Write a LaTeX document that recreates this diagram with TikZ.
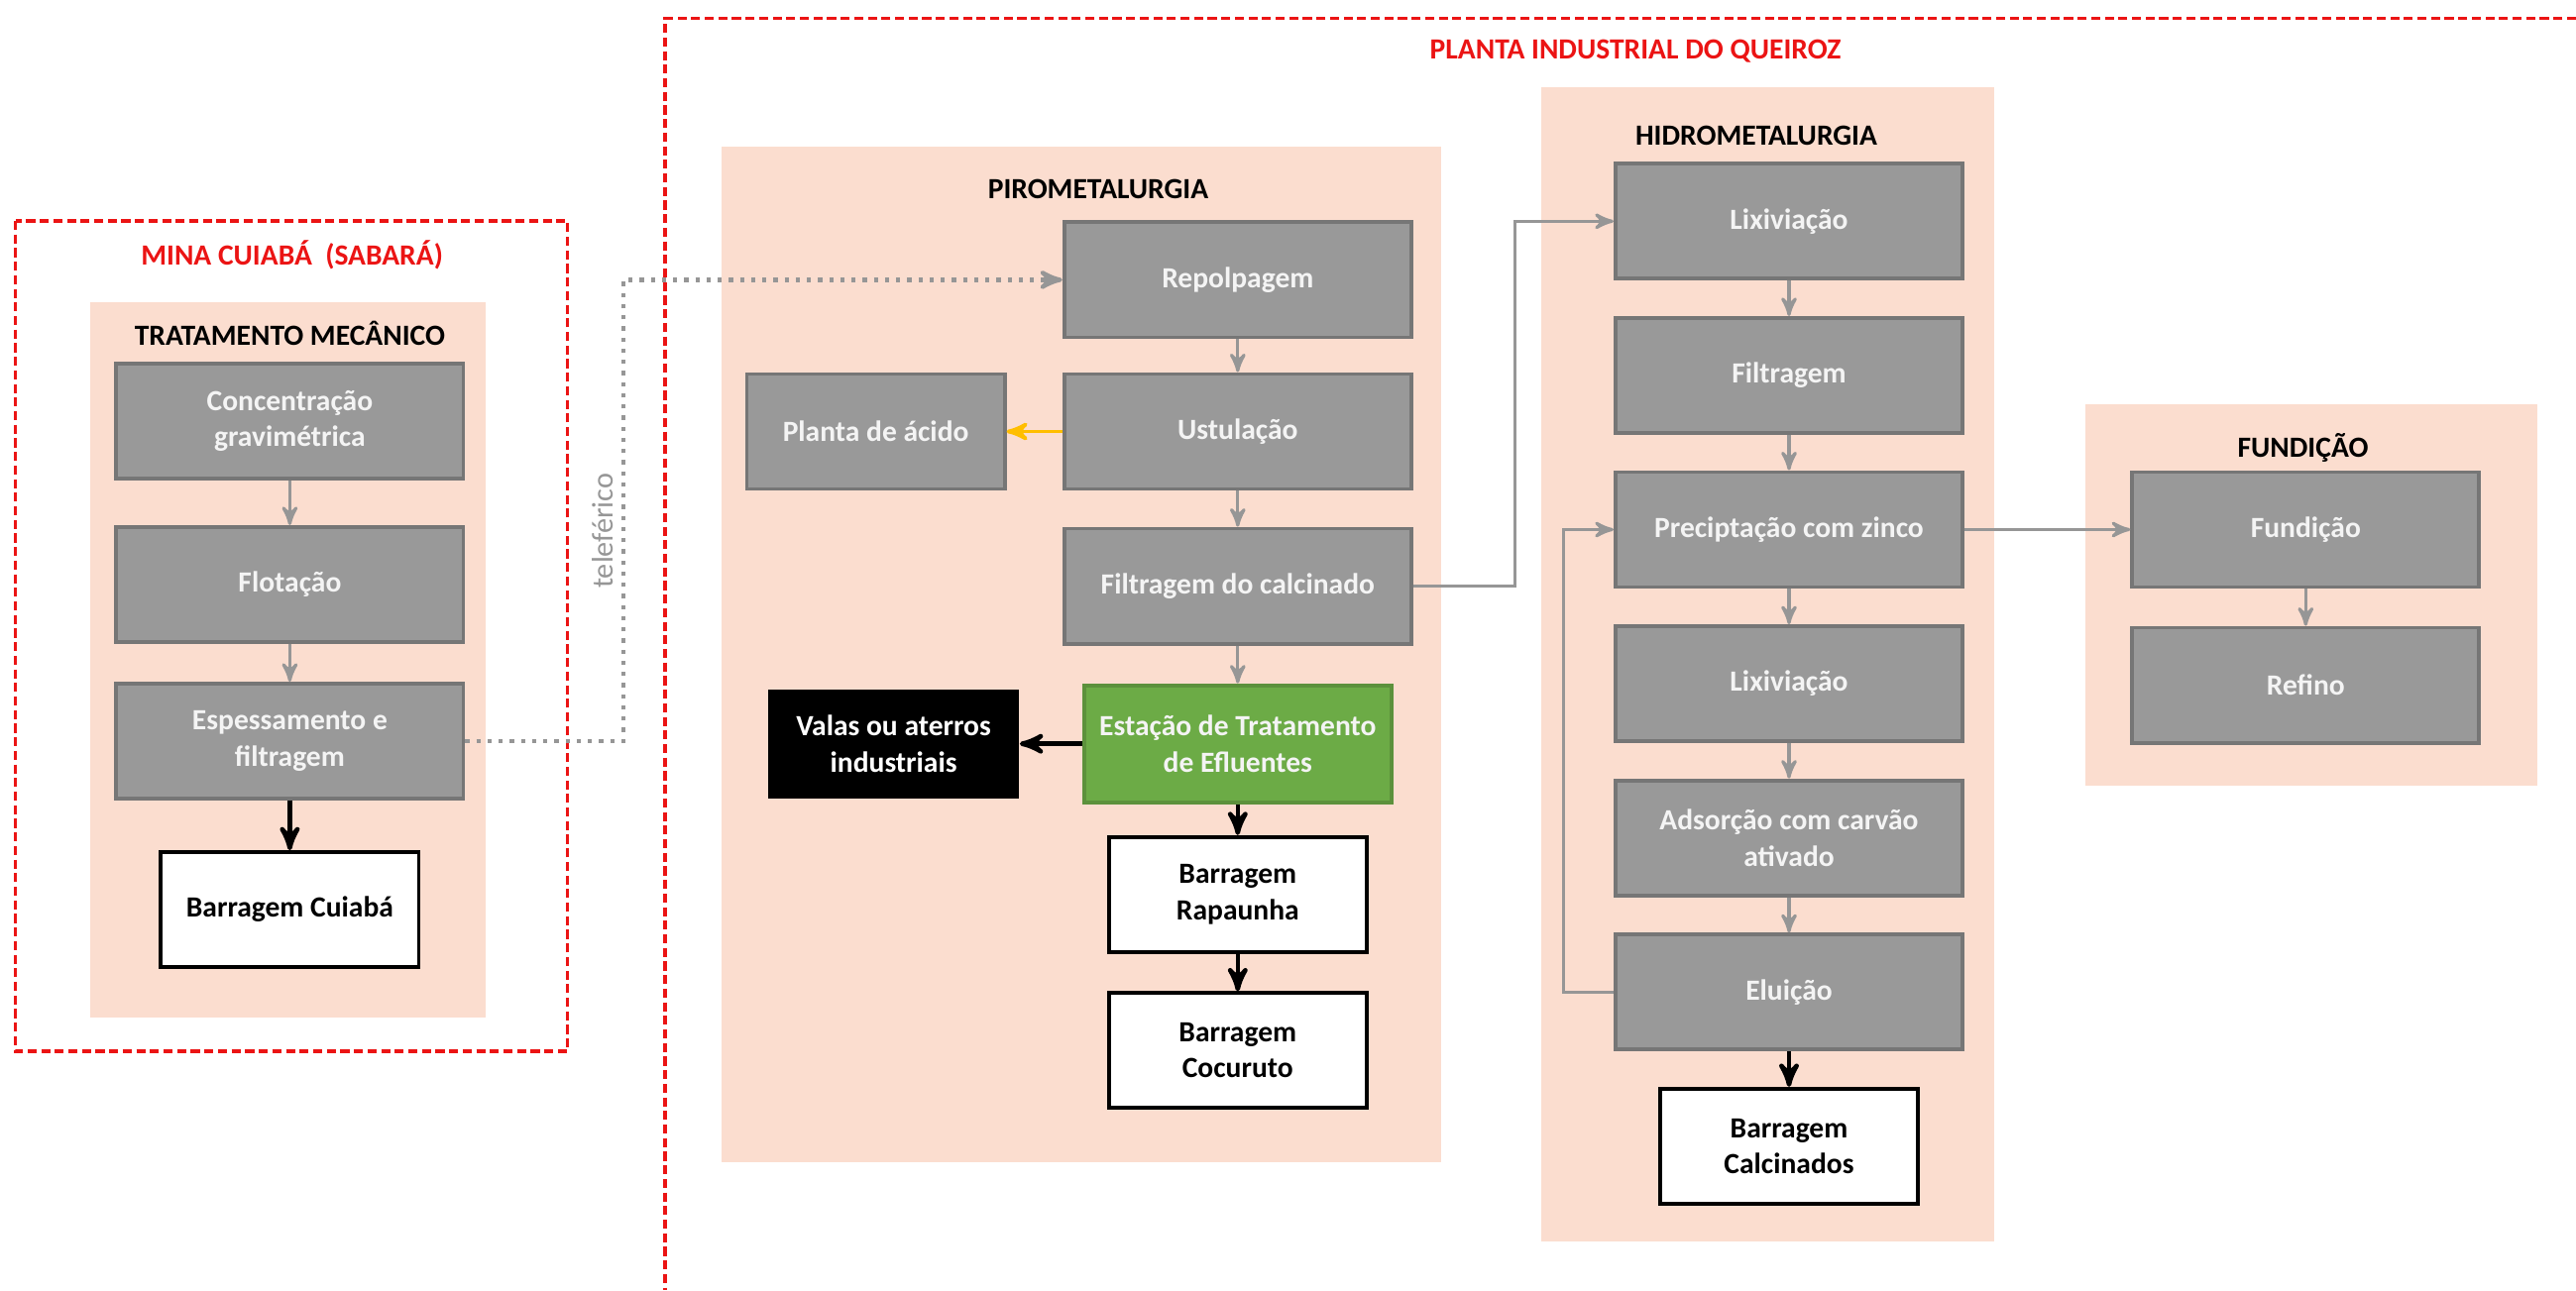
\documentclass[tikz,border=0pt]{standalone}
\usepackage{fontspec}
\setmainfont{Carlito}
\usetikzlibrary{arrows,positioning}

\definecolor{areapink}{RGB}{251,221,207}
\definecolor{boxgray}{RGB}{153,153,153}
\definecolor{boxedge}{RGB}{118,118,118}
\definecolor{boxtext}{RGB}{244,244,244}
\definecolor{flowgray}{RGB}{150,150,150}
\definecolor{etegreen}{RGB}{108,171,70}
\definecolor{gasyellow}{RGB}{255,190,0}
\definecolor{zonered}{RGB}{235,20,20}

\begin{document}
\begin{tikzpicture}[
        >=stealth', x=0.01cm, y=-0.01cm,
        node distance=1.555cm,
        font=\fontsize{8.4}{10.3}\selectfont\bfseries
    ]

    \tikzstyle{proc} = [rectangle,draw=boxedge,fill=boxgray,line width=1.1pt,text=boxtext,align=center,minimum width=3.5cm,minimum height=1.16cm,inner sep=1pt]
    \tikzstyle{dam} = [rectangle,draw=black,fill=white,line width=1.1pt,align=center,minimum width=2.6cm,minimum height=1.16cm]
    \tikzstyle{ete} = [rectangle,draw=etegreen!85!black,fill=etegreen,text=boxtext,line width=1.1pt,align=center,minimum width=3.1cm,minimum height=1.18cm]
    \tikzstyle{waste} = [rectangle,fill=black,text=white,align=center,minimum width=2.53cm,minimum height=1.1cm]
    \tikzstyle{area} = [fill=areapink]
    \tikzstyle{zone} = [draw=zonered,line width=0.9pt,dash pattern=on 2.6pt off 1.3pt]
    \tikzstyle{title} = [inner sep=0pt]
    \tikzstyle{flow} = [->,draw=flowgray,line width=0.9pt]
    \tikzstyle{dump} = [->,draw=black,line width=1.3pt]
    \tikzstyle{gas} = [->,draw=gasyellow,line width=1.1pt]
    \tikzstyle{cable} = [->,draw=flowgray,line width=1.2pt,dotted]

    \useasboundingbox (0,0) rectangle (2599,1302);

    % zonas e areas
    \draw[zone] (15.6,223) rectangle (572.8,1061);
    \draw[zone] (2599,18.3) -- (671,18.3) -- (671,1302);
    \fill[area] (90.6,305) rectangle (489.7,1026.6);
    \fill[area] (728,147.7) rectangle (1454,1173);
    \fill[area] (1554.7,87.7) rectangle (2011.6,1252.6);
    \fill[area] (2104,408) rectangle (2559.7,793);

    \node[title,text=zonered] (mina) at (294.6,257) {MINA CUIABÁ~~(SABARÁ)};
    \node[title,text=zonered] (planta) at (1650,51.7) {PLANTA INDUSTRIAL DO QUEIROZ};
    \node[title] (tmec) at (292.4,336) {TRATAMENTO MECÂNICO};
    \node[title] (piro) at (1108,191) {PIROMETALURGIA};
    \node[title] (hidro) at (1772,136.7) {HIDROMETALURGIA};
    \node[title] (fundt) at (2323.5,451.5) {FUNDIÇÃO};

    % tratamento mecanico
    \node[proc] (conc) at (292.4,424.8) {Concentração\\gravimétrica};
    \node[proc] (flot) [node distance=1.65cm,below of=conc] {Flotação};
    \node[proc] (espes) [node distance=1.58cm,below of=flot] {Espessamento e\\filtragem};
    \node[dam] (bcuiaba) [node distance=1.70cm,below of=espes] {Barragem Cuiabá};

    % pirometalurgia
    \node[proc] (repol) at (1248.8,282.4) {Repolpagem};
    \node[proc] (ustul) [node distance=1.53cm,below of=repol] {Ustulação};
    \node[proc,minimum width=2.6cm] (acido) [node distance=3.65cm,left of=ustul] {Planta de ácido};
    \node[proc] (filtcalc) [node distance=1.56cm,below of=ustul] {Filtragem do calcinado};
    \node[ete] (ete) [node distance=1.59cm,below of=filtcalc] {Estação de Tratamento\\de Efluentes};
    \node[waste] (valas) [node distance=3.47cm,left of=ete] {Valas ou aterros\\industriais};
    \node[dam] (rapaunha) [node distance=1.52cm,below of=ete] {Barragem\\Rapaunha};
    \node[dam] (cocuruto) [node distance=1.575cm,below of=rapaunha] {Barragem\\Cocuruto};

    % hidrometalurgia
    \node[proc] (lix1) at (1805,223.3) {Lixiviação};
    \node[proc] (filtr) [below of=lix1] {Filtragem};
    \node[proc] (precip) [below of=filtr] {Preciptação com zinco};
    \node[proc] (lix2) [below of=precip] {Lixiviação};
    \node[proc] (adsor) [below of=lix2] {Adsorção com carvão\\ativado};
    \node[proc] (eluic) [below of=adsor] {Eluição};
    \node[dam] (bcalc) [below of=eluic] {Barragem\\Calcinados};

    % fundicao
    \node[proc] (fund) [node distance=5.21cm,right of=precip] {Fundição};
    \node[proc] (refino) [node distance=1.57cm,below of=fund] {Refino};

    \node[title,font=\fontsize{8.6}{10}\selectfont,text=flowgray,rotate=90] (telef) at (608,535.8) {teleférico};

    \path
        (conc) edge[flow] (flot)
        (flot) edge[flow] (espes)
        (repol) edge[flow] (ustul)
        (ustul) edge[flow] (filtcalc)
        (filtcalc) edge[flow] (ete)
        (lix1) edge[flow] (filtr)
        (filtr) edge[flow] (precip)
        (precip) edge[flow] (lix2)
        (lix2) edge[flow] (adsor)
        (adsor) edge[flow] (eluic)
        (fund) edge[flow] (refino)
        (precip) edge[flow] (fund)
        (ustul) edge[gas] (acido)
        (espes) edge[dump] (bcuiaba)
        (ete) edge[dump] (valas)
        (ete) edge[dump] (rapaunha)
        (rapaunha) edge[dump] (cocuruto)
        (eluic) edge[dump] (bcalc)
    ;
    \draw[cable] (espes.east) -- ++(159.5,0) |- (repol.west);
    \draw[flow] (filtcalc.east) -- ++(103,0) |- (lix1.west);
    \draw[flow] (eluic.west) -- ++(-50.5,0) |- (precip.west);

\end{tikzpicture}
\end{document}
